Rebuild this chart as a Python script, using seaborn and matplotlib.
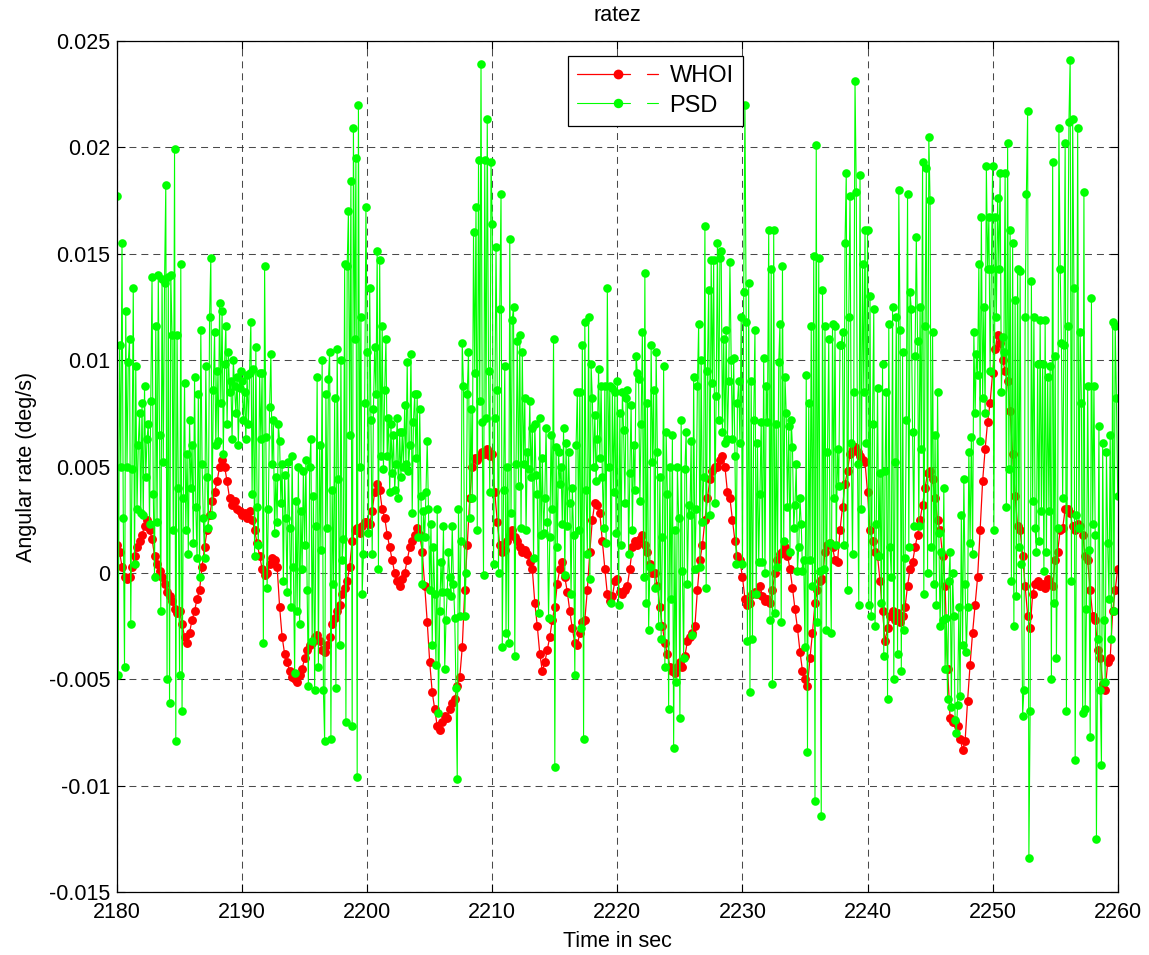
import numpy as np
import matplotlib
matplotlib.use("Agg")
import matplotlib.pyplot as plt
from matplotlib.lines import Line2D
from matplotlib.legend_handler import HandlerBase
from matplotlib.ticker import FormatStrFormatter
import seaborn as sns

# ---------------- data ----------------
title_text = "ratez"
x_label = "Time in sec"
y_label = "Angular rate (deg/s)"
series_names = ["WHOI", "PSD"]

whoi_t0, whoi_dt = 2180.0, 0.2   # sampling of WHOI series (s)
psd_t0, psd_dt = 2180.0, 0.1     # sampling of PSD series (s)

whoi_rate = [
    0.0013, 0.0010, 0.0003, -0.0002, -0.0003,
    -0.0002, 0.0003, 0.0008, 0.0012, 0.0015,
    0.0018, 0.0022, 0.0025, 0.0020, 0.0016,
    0.0008, 0.0004, 0.0001, -0.0002, -0.0005,
    -0.0009, -0.0011, -0.0013, -0.0017, -0.0019,
    -0.0018, -0.0024, -0.0030, -0.0033, -0.0028,
    -0.0022, -0.0018, -0.0012, -0.0008, 0.0003,
    0.0012, 0.0020, 0.0027, 0.0034, 0.0038,
    0.0043, 0.0050, 0.0053, 0.0050, 0.0043,
    0.0035, 0.0032, 0.0034, 0.0030, 0.0029,
    0.0027, 0.0028, 0.0026, 0.0029, 0.0025,
    0.0020, 0.0014, 0.0008, 0.0002, -0.0001,
    0.0000, 0.0004, 0.0007, 0.0006, 0.0003,
    -0.0016, -0.0030, -0.0038, -0.0042, -0.0046,
    -0.0049, -0.0050, -0.0051, -0.0048, -0.0045,
    -0.0040, -0.0036, -0.0034, -0.0033, -0.0030,
    -0.0029, -0.0032, -0.0036, -0.0037, -0.0034,
    -0.0030, -0.0024, -0.0021, -0.0018, -0.0015,
    -0.0010, -0.0007, -0.0004, 0.0003, 0.0015,
    0.0020, 0.0021, 0.0019, 0.0022, 0.0024,
    0.0024, 0.0023, 0.0029, 0.0038, 0.0042,
    0.0039, 0.0030, 0.0026, 0.0018, 0.0012,
    0.0006, 0.0000, -0.0004, -0.0006, -0.0003,
    0.0000, 0.0006, 0.0012, 0.0015, 0.0018,
    0.0021, 0.0018, 0.0010, -0.0006, -0.0023,
    -0.0042, -0.0056, -0.0064, -0.0072, -0.0074,
    -0.0070, -0.0067, -0.0068, -0.0064, -0.0061,
    -0.0059, -0.0053, -0.0049, -0.0035, -0.0008,
    0.0013, 0.0035, 0.0050, 0.0054, 0.0053,
    0.0055, 0.0057, 0.0056, 0.0058, 0.0055,
    0.0056, 0.0038, 0.0024, 0.0013, 0.0010,
    0.0011, 0.0015, 0.0018, 0.0020, 0.0017,
    0.0015, 0.0012, 0.0010, 0.0011, 0.0009,
    0.0005, 0.0002, -0.0014, -0.0025, -0.0038,
    -0.0046, -0.0042, -0.0036, -0.0030, -0.0022,
    -0.0016, -0.0005, 0.0002, 0.0005, -0.0002,
    -0.0009, -0.0018, -0.0026, -0.0033, -0.0034,
    -0.0028, -0.0023, -0.0022, -0.0008, 0.0010,
    0.0025, 0.0033, 0.0032, 0.0028, 0.0015,
    0.0002, -0.0010, -0.0013, -0.0011, -0.0004,
    -0.0003, -0.0009, -0.0010, -0.0008, -0.0006,
    0.0002, 0.0012, 0.0015, 0.0013, 0.0016,
    0.0018, 0.0013, 0.0010, 0.0004, 0.0000,
    0.0000, -0.0006, -0.0016, -0.0025, -0.0033,
    -0.0038, -0.0044, -0.0046, -0.0047, -0.0044,
    -0.0042, -0.0044, -0.0039, -0.0032, -0.0030,
    -0.0028, -0.0025, -0.0008, 0.0006, 0.0013,
    0.0025, 0.0035, 0.0044, 0.0048, 0.0050,
    0.0050, 0.0053, 0.0055, 0.0050, 0.0038,
    0.0035, 0.0025, 0.0015, 0.0008, 0.0006,
    -0.0002, -0.0012, -0.0015, -0.0014, -0.0010,
    -0.0009, -0.0010, -0.0006, -0.0011, -0.0013,
    -0.0012, -0.0014, -0.0008, 0.0000, 0.0006,
    0.0009, 0.0010, 0.0012, 0.0008, 0.0002,
    -0.0007, -0.0017, -0.0026, -0.0037, -0.0046,
    -0.0050, -0.0053, -0.0040, -0.0028, -0.0014,
    -0.0008, -0.0004, -0.0003, 0.0010, 0.0013,
    0.0014, 0.0012, 0.0006, 0.0005, 0.0020,
    0.0031, 0.0042, 0.0048, 0.0056, 0.0058,
    0.0059, 0.0057, 0.0055, 0.0053, 0.0052,
    0.0038, 0.0020, 0.0015, 0.0010, 0.0008,
    -0.0004, -0.0018, -0.0032, -0.0026, -0.0020,
    -0.0018, -0.0022, -0.0019, -0.0023, -0.0020,
    -0.0016, -0.0006, 0.0002, 0.0005, 0.0012,
    0.0018, 0.0025, 0.0032, 0.0040, 0.0047,
    0.0048, 0.0044, 0.0035, 0.0025, 0.0020,
    0.0008, -0.0006, -0.0045, -0.0068, -0.0070,
    -0.0070, -0.0072, -0.0078, -0.0083, -0.0079,
    -0.0060, -0.0043, -0.0028, -0.0015, -0.0002,
    0.0020, 0.0043, 0.0058, 0.0071, 0.0080,
    0.0094, 0.0105, 0.0112, 0.0108, 0.0100,
    0.0095, 0.0090, 0.0076, 0.0056, 0.0036,
    0.0022, 0.0020, 0.0008, -0.0006, -0.0020,
    -0.0026, -0.0010, -0.0005, -0.0004, -0.0006,
    -0.0005, -0.0007, -0.0003, -0.0005, -0.0006,
    0.0006, 0.0010, 0.0020, 0.0021, 0.0030,
    0.0030, 0.0028, 0.0022, 0.0020, 0.0023,
    0.0022, 0.0018, 0.0008, 0.0006, -0.0008,
    -0.0020, -0.0022, -0.0036, -0.0040, -0.0052,
    -0.0055, -0.0042, -0.0040, -0.0018, -0.0008,
    0.0002,
]

psd_rate = [
    0.0177, -0.0048, 0.0107, 0.0050, 0.0155, 0.0026, -0.0044, 0.0123, 0.0050, 0.0099,
    0.0110, -0.0024, 0.0049, 0.0134, 0.0004, 0.0097, 0.0030, 0.0060, 0.0075, 0.0028,
    0.0080, 0.0027, 0.0088, 0.0045, 0.0063, 0.0070, 0.0023, 0.0081, 0.0139, 0.0037,
    -0.0002, 0.0116, 0.0024, 0.0140, 0.0065, -0.0018, 0.0138, 0.0052, 0.0136, 0.0182,
    -0.0050, 0.0139, -0.0061, 0.0140, 0.0112, 0.0020, 0.0199, -0.0079, 0.0112, 0.0040,
    -0.0048, 0.0145, -0.0065, 0.0035, 0.0089, 0.0020, 0.0056, 0.0009, 0.0072, 0.0040,
    0.0060, 0.0014, 0.0092, 0.0031, 0.0007, 0.0084, -0.0002, 0.0114, 0.0051, 0.0026,
    0.0007, 0.0097, 0.0045, 0.0021, 0.0120, 0.0148, 0.0027, 0.0086, 0.0113, 0.0060,
    0.0095, 0.0062, 0.0127, 0.0080, 0.0123, 0.0056, 0.0098, 0.0116, 0.0070, 0.0104,
    0.0085, 0.0090, 0.0063, 0.0100, 0.0088, 0.0075, 0.0092, 0.0060, 0.0087, 0.0095,
    0.0090, 0.0072, 0.0085, 0.0063, 0.0093, 0.0070, 0.0094, 0.0118, 0.0037, 0.0096,
    0.0008, 0.0106, 0.0031, 0.0013, 0.0094, 0.0063, 0.0094, -0.0033, 0.0144, 0.0064,
    -0.0007, 0.0030, 0.0078, 0.0103, 0.0051, 0.0072, 0.0019, 0.0045, 0.0024, 0.0070,
    0.0062, 0.0033, 0.0051, -0.0004, 0.0046, 0.0026, -0.0009, 0.0052, 0.0021, -0.0016,
    0.0055, 0.0003, -0.0047, 0.0034, -0.0018, 0.0050, -0.0024, 0.0029, 0.0002, 0.0048,
    0.0013, 0.0053, -0.0008, -0.0053, 0.0050, 0.0063, -0.0032, 0.0036, -0.0055, 0.0022,
    0.0092, -0.0044, 0.0060, 0.0011, 0.0100, -0.0055, -0.0079, 0.0084, 0.0021, 0.0091,
    0.0104, -0.0078, 0.0039, -0.0005, 0.0082, -0.0054, 0.0105, 0.0044, -0.0034, 0.0100,
    0.0006, 0.0016, 0.0145, -0.0070, 0.0144, 0.0170, 0.0065, 0.0184, -0.0072, 0.0209,
    0.0110, 0.0195, -0.0096, 0.0220, 0.0050, 0.0120, -0.0010, 0.0009, 0.0080, 0.0172,
    0.0104, 0.0019, 0.0134, 0.0072, 0.0009, 0.0077, 0.0106, 0.0084, 0.0151, 0.0002,
    0.0147, 0.0055, 0.0116, 0.0049, 0.0086, 0.0110, 0.0055, 0.0073, 0.0038, 0.0070,
    0.0047, 0.0065, 0.0039, 0.0051, 0.0073, 0.0035, 0.0066, 0.0045, 0.0066, 0.0050,
    0.0079, 0.0051, 0.0099, 0.0048, 0.0060, 0.0103, 0.0028, 0.0071, 0.0084, 0.0054,
    0.0084, 0.0017, 0.0077, 0.0036, -0.0005, 0.0029, 0.0017, 0.0038, 0.0062, 0.0030,
    -0.0008, 0.0023, -0.0034, 0.0012, -0.0010, -0.0043, 0.0030, -0.0066, -0.0018, 0.0005,
    -0.0009, 0.0022, -0.0045, -0.0022, -0.0009, 0.0010, -0.0002, -0.0011, 0.0022, -0.0005,
    -0.0021, -0.0054, -0.0097, 0.0030, -0.0020, 0.0015, 0.0108, 0.0088, -0.0020, 0.0000,
    0.0084, 0.0104, 0.0026, 0.0077, 0.0035, 0.0160, 0.0094, 0.0172, 0.0020, 0.0194,
    0.0081, 0.0239, 0.0071, -0.0001, 0.0194, 0.0073, 0.0213, 0.0095, 0.0038, 0.0193,
    0.0164, 0.0004, 0.0073, 0.0153, 0.0086, 0.0000, 0.0124, 0.0178, -0.0035, 0.0039,
    0.0097, -0.0028, 0.0050, -0.0033, 0.0157, 0.0028, 0.0119, 0.0125, -0.0039, 0.0051,
    0.0109, 0.0041, 0.0112, 0.0021, 0.0104, 0.0051, 0.0082, 0.0020, 0.0057, 0.0049,
    0.0081, 0.0045, 0.0068, 0.0007, 0.0070, 0.0046, 0.0037, -0.0019, 0.0073, 0.0018,
    0.0054, 0.0019, 0.0035, 0.0068, 0.0024, -0.0021, 0.0017, 0.0065, 0.0030, 0.0110,
    -0.0091, 0.0059, 0.0012, 0.0057, 0.0042, 0.0050, 0.0023, 0.0068, -0.0001, 0.0061,
    0.0022, 0.0057, 0.0033, -0.0010, 0.0040, 0.0018, -0.0048, 0.0060, 0.0085, 0.0020,
    0.0085, -0.0026, 0.0107, -0.0078, 0.0118, 0.0039, 0.0009, 0.0120, -0.0003, 0.0098,
    0.0082, 0.0050, 0.0074, 0.0043, 0.0063, 0.0096, 0.0054, 0.0088, 0.0045, 0.0021,
    0.0088, 0.0014, 0.0134, 0.0050, 0.0088, -0.0014, 0.0087, 0.0038, 0.0085, 0.0019,
    0.0090, -0.0015, 0.0075, 0.0013, 0.0085, 0.0067, 0.0033, 0.0082, 0.0086, 0.0009,
    0.0047, 0.0079, 0.0020, 0.0060, 0.0039, 0.0102, 0.0094, 0.0091, 0.0034, 0.0070,
    0.0113, -0.0002, 0.0141, -0.0014, 0.0080, -0.0027, 0.0003, 0.0107, 0.0052, 0.0086,
    -0.0007, 0.0104, 0.0057, -0.0025, 0.0045, -0.0031, 0.0017, 0.0097, -0.0044, 0.0066,
    0.0037, -0.0064, 0.0050, -0.0012, 0.0065, -0.0082, 0.0020, -0.0051, 0.0050, 0.0026,
    -0.0068, 0.0072, 0.0001, -0.0040, 0.0049, 0.0066, -0.0005, 0.0032, 0.0027, 0.0062,
    -0.0029, 0.0092, 0.0002, 0.0030, 0.0088, 0.0117, 0.0003, 0.0100, 0.0024, 0.0045,
    0.0163, -0.0007, 0.0095, 0.0133, 0.0027, 0.0147, 0.0089, 0.0147, 0.0033, 0.0083,
    0.0155, 0.0072, 0.0148, 0.0151, 0.0066, 0.0110, 0.0061, 0.0114, 0.0063, 0.0090,
    0.0146, 0.0100, 0.0063, 0.0101, 0.0055, 0.0004, 0.0080, 0.0090, 0.0061, 0.0120,
    0.0004, 0.0132, 0.0220, 0.0118, -0.0032, 0.0136, -0.0056, 0.0090, -0.0031, 0.0072,
    0.0114, -0.0010, 0.0061, 0.0005, 0.0037, 0.0071, 0.0005, 0.0101, 0.0000, 0.0088,
    0.0071, 0.0161, -0.0022, 0.0143, -0.0052, 0.0161, -0.0019, 0.0070, 0.0003, 0.0099,
    0.0117, -0.0023, 0.0144, 0.0015, 0.0092, 0.0075, 0.0031, 0.0069, 0.0010, 0.0072,
    0.0059, 0.0021, 0.0032, 0.0051, 0.0001, 0.0012, 0.0035, 0.0023, 0.0001, 0.0006,
    -0.0035, 0.0093, -0.0084, 0.0080, 0.0006, 0.0116, -0.0006, 0.0149, -0.0107, 0.0201,
    -0.0023, 0.0148, 0.0001, -0.0114, 0.0133, 0.0002, 0.0116, -0.0027, 0.0057, 0.0110,
    0.0014, -0.0028, 0.0117, 0.0035, 0.0116, 0.0013, 0.0058, 0.0041, 0.0107, 0.0107,
    0.0113, 0.0013, 0.0155, 0.0188, -0.0008, 0.0120, 0.0177, 0.0061, 0.0009, 0.0085,
    0.0231, 0.0179, 0.0051, -0.0015, 0.0187, 0.0030, 0.0145, 0.0085, 0.0161, 0.0061,
    0.0161, -0.0015, 0.0130, -0.0020, 0.0070, 0.0124, -0.0025, 0.0023, 0.0087, 0.0008,
    0.0047, -0.0014, 0.0098, -0.0039, 0.0048, 0.0085, -0.0059, 0.0117, 0.0012, -0.0002,
    0.0125, -0.0050, 0.0052, 0.0120, -0.0038, 0.0180, 0.0114, -0.0046, 0.0104, -0.0027,
    0.0007, 0.0072, 0.0178, 0.0012, 0.0132, 0.0124, 0.0066, 0.0022, 0.0102, 0.0158,
    0.0109, 0.0022, 0.0125, 0.0058, 0.0193, -0.0010, 0.0116, 0.0190, 0.0000, 0.0205,
    0.0175, 0.0012, 0.0113, -0.0005, 0.0065, -0.0015, 0.0085, 0.0019, -0.0025, 0.0010,
    -0.0022, 0.0040, -0.0045, -0.0021, -0.0059, -0.0004, 0.0010, -0.0063, 0.0000, -0.0020,
    -0.0069, -0.0075, -0.0062, -0.0016, -0.0058, 0.0027, -0.0034, 0.0044, -0.0005, -0.0037,
    -0.0016, 0.0057, 0.0014, 0.0064, 0.0009, 0.0113, 0.0075, 0.0103, 0.0093, 0.0145,
    0.0062, 0.0167, 0.0082, 0.0125, 0.0075, 0.0191, 0.0143, 0.0167, 0.0095, 0.0143,
    0.0191, 0.0020, 0.0167, 0.0120, 0.0176, 0.0143, 0.0188, 0.0085, 0.0111, 0.0104,
    0.0188, 0.0031, 0.0202, 0.0049, 0.0161, -0.0004, 0.0155, -0.0025, 0.0128, -0.0011,
    0.0143, 0.0012, 0.0142, 0.0004, -0.0067, -0.0055, 0.0120, 0.0178, 0.0217, -0.0134,
    -0.0065, 0.0137, 0.0034, 0.0120, 0.0021, 0.0010, 0.0098, 0.0015, 0.0119, 0.0029,
    0.0098, 0.0001, 0.0119, 0.0010, 0.0092, 0.0029, 0.0097, -0.0050, 0.0193, -0.0014,
    0.0102, -0.0040, 0.0021, 0.0209, 0.0143, 0.0108, 0.0035, 0.0107, 0.0202, -0.0065,
    0.0116, 0.0212, 0.0241, -0.0004, 0.0213, 0.0134, -0.0088, 0.0027, 0.0209, 0.0021,
    0.0113, 0.0080, -0.0066, 0.0179, -0.0064, -0.0017, 0.0088, 0.0011, -0.0077, 0.0129,
    0.0023, 0.0088, 0.0018, -0.0125, -0.0031, 0.0069, -0.0055, -0.0090, 0.0061, -0.0022,
    -0.0051, 0.0057, 0.0014, -0.0012, 0.0065, -0.0031, 0.0118, -0.0018, 0.0116, 0.0082,
    0.0036,
]

x_ticks = [2180, 2190, 2200, 2210, 2220, 2230, 2240, 2250, 2260]
y_ticks = [-0.015, -0.01, -0.005, 0, 0.005, 0.01, 0.015, 0.02, 0.025]

# ---------------- style ----------------
sns.set_theme(style="white")
plt.rcParams["font.family"] = ["Liberation Sans", "DejaVu Sans"]
plt.rcParams["axes.unicode_minus"] = False
plt.rcParams["lines.scale_dashes"] = False
plt.rcParams["text.color"] = "black"
plt.rcParams["axes.labelcolor"] = "black"
plt.rcParams["xtick.color"] = "black"
plt.rcParams["ytick.color"] = "black"

whoi_t = np.round(whoi_t0 + whoi_dt * np.arange(len(whoi_rate)), 3)
psd_t = np.round(psd_t0 + psd_dt * np.arange(len(psd_rate)), 3)

fig = plt.figure(figsize=(11.49, 9.55), dpi=100)
fig.patch.set_facecolor("white")
ax = fig.add_axes([0.10183, 0.06565, 0.87093, 0.89173])

sns.lineplot(x=whoi_t, y=whoi_rate, ax=ax, color="#ff0000", linewidth=0.9,
             marker="o", markersize=6.4, markeredgewidth=0, label=series_names[0],
             estimator=None, sort=False)
sns.lineplot(x=psd_t, y=psd_rate, ax=ax, color="#00ff00", linewidth=0.8,
             marker="o", markersize=6.2, markeredgewidth=0, label=series_names[1],
             estimator=None, sort=False)

ax.set_xlim(x_ticks[0], x_ticks[-1])
ax.set_ylim(y_ticks[0], y_ticks[-1])
ax.set_xticks(x_ticks)
ax.set_yticks(y_ticks)
ax.yaxis.set_major_formatter(FormatStrFormatter("%g"))
ax.xaxis.set_major_formatter(FormatStrFormatter("%g"))

ax.grid(True, color="#2a2a2a", linestyle=(0, (5, 3.6)), linewidth=0.75, alpha=0.85)
ax.set_axisbelow(True)
for sp in ax.spines.values():
    sp.set_visible(True)
    sp.set_color("black")
    sp.set_linewidth(0.9)
ax.tick_params(axis="both", direction="in", length=5.5, width=0.8, colors="black",
               labelsize=15.5, top=True, right=True, bottom=True, left=True)
ax.tick_params(axis="x", pad=7)
ax.tick_params(axis="y", pad=5)

ax.set_title(title_text, fontsize=15.5, pad=14, color="black")
ax.set_xlabel(x_label, fontsize=15.5, labelpad=6, color="black")
ax.set_ylabel(y_label, fontsize=15.5, labelpad=8, color="black")


class MatlabLegendHandler(HandlerBase):
    def create_artists(self, legend, orig_handle, xdescent, ydescent, width,
                       height, fontsize, trans):
        y = height / 2.0 - ydescent
        x0 = -xdescent
        color = orig_handle.get_color()
        lw = orig_handle.get_linewidth()
        ms = orig_handle.get_markersize()
        seg = Line2D([x0, x0 + 0.66 * width], [y, y], color=color, lw=lw)
        dot = Line2D([x0 + 0.50 * width], [y], color=color, marker="o",
                     markersize=ms * 1.1, linestyle="none", markeredgewidth=0)
        dash = Line2D([x0 + 0.87 * width, x0 + width], [y, y], color=color, lw=lw)
        for a in (seg, dot, dash):
            a.set_transform(trans)
        return [seg, dot, dash]


lines = ax.get_lines()
handles = [lines[0], lines[1]]
leg = ax.legend(handles, series_names, handler_map={Line2D: MatlabLegendHandler()},
                loc="upper left", bbox_to_anchor=(0.4507, 0.982), borderaxespad=0,
                fontsize=17, handlelength=3.4, handletextpad=0.5, borderpad=0.4,
                labelspacing=0.3, frameon=True, fancybox=False, framealpha=1,
                edgecolor="black", labelcolor="black")
leg.get_frame().set_linewidth(0.9)

fig.savefig("out.png", dpi=100, facecolor="white")
